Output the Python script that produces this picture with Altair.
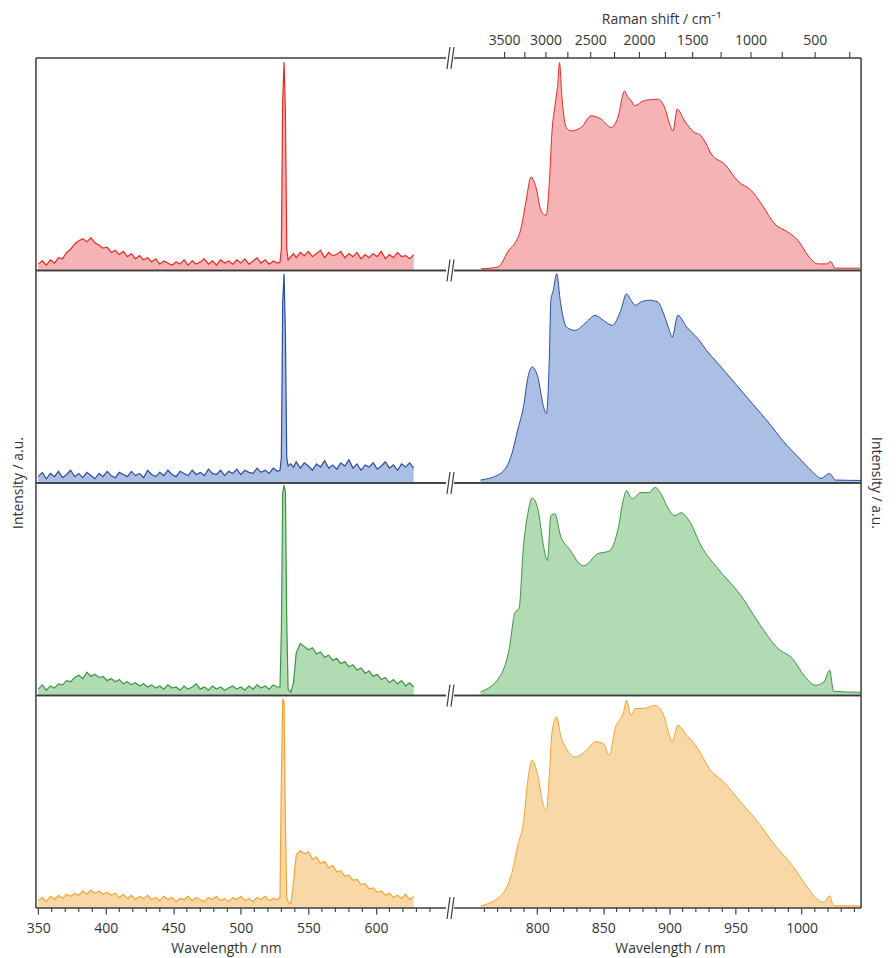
import altair as alt
import pandas as pd

# ---------------- style ----------------
FRAME = "#3c3c3c"
TEXT = "#333333"
FONT = "Open Sans"
W_L, W_R, H = 411, 408, 213
GAP = 8
L_DOMAIN = [348.3, 651.9]
R_DOMAIN = [737.0, 1045.0]
PUMP_NM = 1064.0

# ---------------- data ----------------
# left (visible) region, wavelength grid in nm
LEFT_WL = (list(range(350, 528, 3))
           + [529, 530, 531, 532, 533, 534, 535]
           + [537, 539, 541] + list(range(544, 629, 3)))

RED_L = [0.030, 0.045, 0.025, 0.050, 0.035, 0.060, 0.055, 0.085, 0.100, 0.125,
         0.140, 0.150, 0.135, 0.155, 0.130, 0.120, 0.105, 0.110, 0.085, 0.095,
         0.075, 0.090, 0.065, 0.080, 0.055, 0.070, 0.050, 0.060, 0.040, 0.055,
         0.030, 0.045, 0.035, 0.025, 0.040, 0.030, 0.050, 0.025, 0.045, 0.030,
         0.040, 0.055, 0.030, 0.045, 0.025, 0.050, 0.035, 0.045, 0.030, 0.050,
         0.035, 0.055, 0.030, 0.045, 0.060, 0.035, 0.050, 0.030, 0.045, 0.035,
         0.040, 0.100, 0.800, 0.980, 0.750, 0.100, 0.050,
         0.065, 0.080, 0.060, 0.085, 0.070, 0.090, 0.065, 0.080, 0.095, 0.060,
         0.085, 0.070, 0.075, 0.090, 0.060, 0.080, 0.065, 0.085, 0.055, 0.075,
         0.060, 0.080, 0.065, 0.090, 0.055, 0.075, 0.060, 0.085, 0.065, 0.070,
         0.055, 0.075]

BLUE_L = [0.030, 0.050, 0.020, 0.045, 0.030, 0.055, 0.025, 0.040, 0.060, 0.030,
          0.045, 0.025, 0.050, 0.035, 0.020, 0.045, 0.030, 0.055, 0.035, 0.025,
          0.050, 0.040, 0.030, 0.055, 0.035, 0.045, 0.025, 0.060, 0.040, 0.030,
          0.050, 0.035, 0.060, 0.040, 0.030, 0.055, 0.045, 0.035, 0.060, 0.040,
          0.050, 0.035, 0.065, 0.045, 0.040, 0.060, 0.035, 0.055, 0.045, 0.065,
          0.040, 0.060, 0.050, 0.045, 0.070, 0.050, 0.060, 0.045, 0.070, 0.055,
          0.060, 0.120, 0.850, 0.985, 0.700, 0.120, 0.080,
          0.090, 0.075, 0.100, 0.070, 0.095, 0.080, 0.060, 0.090, 0.075, 0.105,
          0.070, 0.085, 0.065, 0.095, 0.080, 0.110, 0.070, 0.090, 0.060, 0.085,
          0.075, 0.095, 0.065, 0.080, 0.100, 0.070, 0.085, 0.060, 0.090, 0.075,
          0.095, 0.070]

GREEN_L = [0.030, 0.050, 0.025, 0.045, 0.035, 0.055, 0.050, 0.070, 0.065, 0.085,
           0.095, 0.080, 0.110, 0.090, 0.100, 0.085, 0.090, 0.070, 0.080, 0.065,
           0.075, 0.055, 0.065, 0.050, 0.060, 0.045, 0.055, 0.040, 0.050, 0.035,
           0.045, 0.030, 0.050, 0.035, 0.040, 0.025, 0.045, 0.030, 0.040, 0.055,
           0.030, 0.040, 0.025, 0.045, 0.030, 0.040, 0.025, 0.035, 0.045, 0.030,
           0.040, 0.025, 0.045, 0.030, 0.050, 0.035, 0.045, 0.030, 0.050, 0.040,
           0.040, 0.300, 0.950, 0.990, 0.960, 0.350, 0.030,
           0.015, 0.060, 0.200, 0.245, 0.230, 0.215, 0.225, 0.195, 0.205, 0.180,
           0.190, 0.165, 0.175, 0.150, 0.160, 0.135, 0.145, 0.120, 0.130, 0.105,
           0.115, 0.090, 0.100, 0.075, 0.085, 0.060, 0.075, 0.055, 0.070, 0.045,
           0.060, 0.040]

ORANGE_L = [0.035, 0.050, 0.030, 0.055, 0.040, 0.060, 0.045, 0.065, 0.055, 0.070,
            0.060, 0.080, 0.065, 0.085, 0.070, 0.080, 0.065, 0.075, 0.060, 0.070,
            0.050, 0.065, 0.045, 0.060, 0.040, 0.055, 0.045, 0.060, 0.040, 0.050,
            0.035, 0.055, 0.040, 0.050, 0.030, 0.045, 0.040, 0.055, 0.035, 0.050,
            0.040, 0.030, 0.050, 0.040, 0.055, 0.035, 0.045, 0.030, 0.050, 0.040,
            0.055, 0.035, 0.045, 0.030, 0.050, 0.040, 0.055, 0.035, 0.045, 0.040,
            0.050, 0.600, 0.985, 0.970, 0.400, 0.050, 0.030,
            0.020, 0.120, 0.250, 0.270, 0.255, 0.265, 0.230, 0.240, 0.210, 0.220,
            0.190, 0.200, 0.170, 0.175, 0.150, 0.155, 0.130, 0.135, 0.110, 0.115,
            0.090, 0.095, 0.075, 0.080, 0.060, 0.070, 0.050, 0.060, 0.045, 0.065,
            0.040, 0.055]

# right (NIR) region
RED_R_WL = [757.5, 770.1, 779.0, 782.7, 787.8, 791.6, 795.3, 799.1, 802.9, 806.7,
            809.2, 811.0, 813.5, 815.5, 816.8, 818.8, 821.9, 825.6, 833.2, 840.8,
            848.4, 855.9, 861.0, 866.1, 868.0, 871.1, 873.6, 881.2, 891.3, 896.4,
            900.2, 902.7, 905.9, 911.5, 919.1, 922.9, 927.9, 931.7, 941.8, 951.9,
            962.0, 969.6, 979.7, 989.8, 997.4, 1004.9, 1012.5, 1018.8, 1022.1, 1025.2,
            1044.0]
RED_R_V = [0.008, 0.016, 0.10, 0.125, 0.20, 0.33, 0.44, 0.39, 0.28, 0.26,
           0.42, 0.64, 0.78, 0.876, 0.978, 0.806, 0.673, 0.657, 0.673, 0.728,
           0.712, 0.673, 0.72, 0.845, 0.82, 0.80, 0.775, 0.80, 0.806, 0.767,
           0.689, 0.657, 0.759, 0.704, 0.649, 0.64, 0.595, 0.548, 0.50, 0.42,
           0.376, 0.313, 0.219, 0.18, 0.141, 0.07, 0.031, 0.031, 0.042, 0.011,
           0.011]

BLUE_R_WL = [757.1, 772.3, 780.9, 785.2, 789.6, 793.0, 796.1, 800.4, 804.7, 806.9,
             809.1, 810.3, 812.1, 814.7, 817.7, 822.1, 828.5, 837.2, 843.7, 850.2,
             856.7, 863.2, 867.5, 871.0, 874.0, 878.3, 884.8, 891.3, 895.6, 900.0,
             902.1, 906.4, 913.0, 921.6, 928.1, 936.8, 949.8, 962.7, 975.6, 986.5,
             997.3, 1008.2, 1014.7, 1021.2, 1025.5, 1045.0]
BLUE_R_V = [0.014, 0.045, 0.14, 0.25, 0.36, 0.50, 0.546, 0.50, 0.36, 0.327,
            0.577, 0.859, 0.906, 0.985, 0.844, 0.734, 0.718, 0.757, 0.789, 0.765,
            0.742, 0.812, 0.89, 0.86, 0.836, 0.851, 0.86, 0.851, 0.797, 0.718,
            0.687, 0.789, 0.734, 0.679, 0.624, 0.562, 0.468, 0.374, 0.28, 0.194,
            0.123, 0.053, 0.022, 0.045, 0.014, 0.012]

GREEN_R_WL = [757.1, 772.3, 778.8, 783.1, 786.2, 789.6, 793.0, 796.1, 800.4, 804.7,
              807.7, 810.3, 813.3, 817.7, 824.2, 835.0, 845.8, 854.5, 861.0, 865.3,
              867.5, 871.8, 878.3, 884.8, 889.1, 893.5, 900.0, 904.3, 908.7, 915.2,
              923.9, 936.8, 954.2, 967.1, 982.3, 993.1, 1001.8, 1010.4, 1016.9, 1021.2,
              1024.2, 1045.0]
GREEN_R_V = [0.017, 0.095, 0.22, 0.39, 0.41, 0.705, 0.86, 0.93, 0.88, 0.705,
             0.635, 0.846, 0.855, 0.75, 0.69, 0.61, 0.667, 0.68, 0.78, 0.925,
             0.964, 0.925, 0.955, 0.955, 0.98, 0.95, 0.87, 0.846, 0.86, 0.82,
             0.705, 0.596, 0.47, 0.346, 0.22, 0.174, 0.095, 0.048, 0.064, 0.119,
             0.02, 0.015]

ORANGE_R_WL = [757.1, 772.3, 780.9, 785.2, 789.6, 793.0, 796.1, 800.4, 804.7, 806.9,
               809.1, 811.2, 814.7, 817.7, 822.1, 828.5, 837.2, 843.7, 850.2, 854.5,
               858.9, 865.3, 867.5, 871.0, 874.0, 880.5, 889.1, 895.6, 900.0, 902.1,
               906.4, 913.0, 921.6, 930.3, 941.1, 954.1, 967.1, 980.0, 993.1, 1001.8,
               1010.4, 1016.9, 1021.2, 1024.2, 1045.0]
ORANGE_R_V = [0.01, 0.058, 0.168, 0.294, 0.404, 0.608, 0.695, 0.624, 0.483, 0.459,
              0.624, 0.829, 0.90, 0.813, 0.75, 0.711, 0.742, 0.782, 0.774, 0.718,
              0.844, 0.923, 0.978, 0.907, 0.939, 0.939, 0.954, 0.907, 0.813, 0.782,
              0.86, 0.813, 0.75, 0.656, 0.593, 0.498, 0.404, 0.294, 0.20, 0.121,
              0.05, 0.027, 0.058, 0.011, 0.01]

COLORS = {
    "red": ("#e8271f", "#f6b3b5"),
    "blue": ("#2b4c9d", "#abbfe4"),
    "green": ("#3c9442", "#b1dbb2"),
    "orange": ("#f5a236", "#f9d8a8"),
}

ROWS = [
    ("red", RED_L, RED_R_WL, RED_R_V),
    ("blue", BLUE_L, BLUE_R_WL, BLUE_R_V),
    ("green", GREEN_L, GREEN_R_WL, GREEN_R_V),
    ("orange", ORANGE_L, ORANGE_R_WL, ORANGE_R_V),
]

L_MAJOR = [350, 400, 450, 500, 550, 600]
L_MINOR = [t for t in range(360, 651, 10) if t % 50 != 0]
R_MAJOR = [800, 850, 900, 950, 1000]
R_MINOR = [t for t in range(750, 1041, 10) if t % 50 != 0]

RAMAN_TICKS = [3500, 3250, 3000, 2750, 2500, 2250, 2000, 1750, 1500, 1250, 1000, 750, 500, 250]
RAMAN_LABELS = [3500, 3000, 2500, 2000, 1500, 1000, 500]

Y_TITLE = "Intensity / a.u."
X_TITLE = "Wavelength / nm"
RAMAN_TITLE = "Raman shift / cm\u207b\u00b9"

ONE = pd.DataFrame({"k": [0]})
NO_VIEW = alt.ViewBackground(stroke="transparent", strokeWidth=0)


def xenc(domain, axis):
    return alt.X("wl:Q", scale=alt.Scale(domain=domain, nice=False, zero=False), axis=axis)


YENC = alt.Y("v:Q", scale=alt.Scale(domain=[0, 1], nice=False, zero=True), axis=None)


def hrule(width, y):
    return alt.Chart(ONE).mark_rule(color=FRAME, strokeWidth=1.5).encode(
        x=alt.value(0), x2=alt.value(width), y=alt.value(y))


def vrule(x):
    return alt.Chart(ONE).mark_rule(color=FRAME, strokeWidth=1.5).encode(
        x=alt.value(x), y=alt.value(0), y2=alt.value(H))


def break_marks(y):
    out = []
    for x0 in (W_L + 1, W_L + 5):
        out.append(alt.Chart(ONE).mark_rule(color=FRAME, strokeWidth=1.2).encode(
            x=alt.value(x0), x2=alt.value(x0 + 3), y=alt.value(y + 11), y2=alt.value(y - 11)))
    return out


def label(text, x, y, angle=0, size=14):
    return alt.Chart(ONE).mark_text(
        text=text, font=FONT, fontSize=size, color=TEXT, angle=angle,
        align="center", baseline="middle").encode(x=alt.value(x), y=alt.value(y))


def bottom_axis(values):
    return alt.Axis(values=values, tickSize=6, tickColor=FRAME, tickWidth=1.2,
                    domain=False, grid=False, labelPadding=8, labelFontSize=14,
                    labelColor=TEXT, labelFont=FONT, title=None, format="d")


panels = []
for i, (name, left_v, r_wl, r_v) in enumerate(ROWS):
    line_c, fill_c = COLORS[name]
    last = i == len(ROWS) - 1

    # ----- left panel -----
    xl = xenc(L_DOMAIN, bottom_axis(L_MAJOR) if last else None)
    dfl = pd.DataFrame({"wl": LEFT_WL, "v": left_v})
    lay_l = [
        alt.Chart(dfl).mark_area(color=fill_c, clip=True).encode(x=xl, y=YENC),
        alt.Chart(dfl).mark_line(color=line_c, strokeWidth=1.2, clip=True).encode(x=xl, y=YENC),
        hrule(W_L, 0), hrule(W_L, H), vrule(0),
    ] + break_marks(0)
    if last:
        lay_l += break_marks(H)
        lay_l.append(alt.Chart(pd.DataFrame({"wl": L_MINOR})).mark_rule(
            color=FRAME, strokeWidth=1.1).encode(x=xl, y=alt.value(H), y2=alt.value(H + 4)))
        lay_l.append(label(X_TITLE, 191, H + 41))
    if i == 1:
        lay_l.append(label(Y_TITLE, -17, H, angle=270))
    panels.append(alt.layer(*lay_l).properties(width=W_L, height=H, view=NO_VIEW))

    # ----- right panel -----
    xr = xenc(R_DOMAIN, bottom_axis(R_MAJOR) if last else None)
    dfr = pd.DataFrame({"wl": r_wl, "v": r_v})
    lay_r = [
        alt.Chart(dfr).mark_area(color=fill_c, clip=True, interpolate="monotone").encode(x=xr, y=YENC),
        alt.Chart(dfr).mark_line(color=line_c, strokeWidth=1.0, clip=True, interpolate="monotone").encode(x=xr, y=YENC),
        hrule(W_R, 0), hrule(W_R, H), vrule(W_R),
    ]
    if i == 0:
        lay_r.append(alt.Chart(pd.DataFrame({"shift": RAMAN_TICKS}))
                     .transform_calculate(wl=f"1e7 / (datum.shift + 1e7 / {PUMP_NM})")
                     .mark_rule(color=FRAME, strokeWidth=1.1)
                     .encode(x=xr, y=alt.value(0), y2=alt.value(-6)))
        lay_r.append(alt.Chart(pd.DataFrame({"shift": RAMAN_LABELS}))
                     .transform_calculate(wl=f"1e7 / (datum.shift + 1e7 / {PUMP_NM})")
                     .mark_text(font=FONT, fontSize=14, color=TEXT, baseline="alphabetic")
                     .encode(x=xr, y=alt.value(-13), text=alt.Text("shift:Q", format="d")))
        lay_r.append(label(RAMAN_TITLE, 208, -38))
    if last:
        lay_r.append(alt.Chart(pd.DataFrame({"wl": R_MINOR})).mark_rule(
            color=FRAME, strokeWidth=1.1).encode(x=xr, y=alt.value(H), y2=alt.value(H + 4)))
        lay_r.append(label(X_TITLE, 217, H + 41))
    if i == 1:
        lay_r.append(label(Y_TITLE, W_R + 15, H, angle=90))
    panels.append(alt.layer(*lay_r).properties(width=W_R, height=H, view=NO_VIEW))

chart = (
    alt.concat(*panels, columns=2, spacing={"row": 0, "column": GAP}, bounds="flush")
    .properties(padding={"left": 4, "top": 4, "right": 5, "bottom": 5})
    .configure_view(stroke="transparent", strokeWidth=0)
    .configure(font=FONT)
)

chart.save("out.html", embed_options={"renderer": "svg", "actions": False})
